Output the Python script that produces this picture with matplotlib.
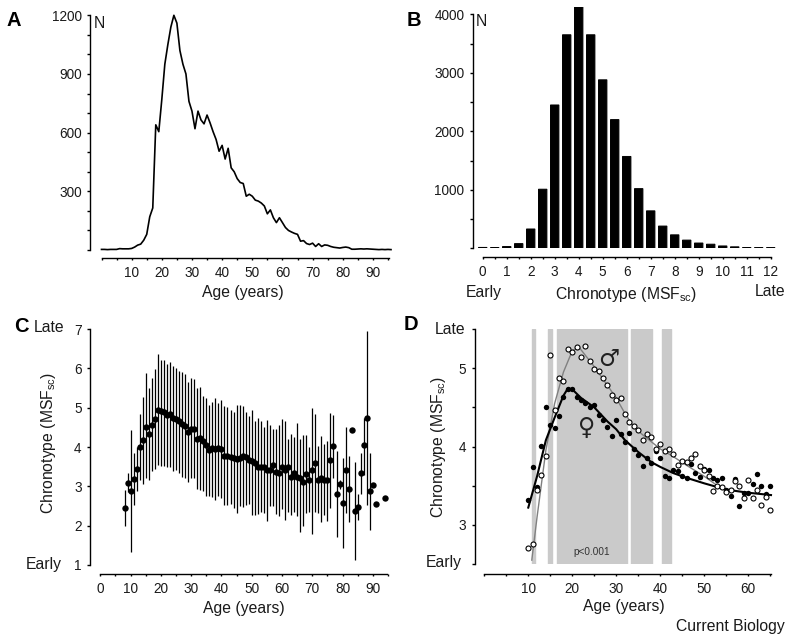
# chronotype figure, four panels
import numpy as np
import matplotlib
matplotlib.use('Agg')
import matplotlib.pyplot as plt
from matplotlib.ticker import MultipleLocator

plt.rcParams['font.family'] = ['Liberation Sans', 'DejaVu Sans']
plt.rcParams['mathtext.default'] = 'regular'
plt.rcParams['axes.linewidth'] = 1.0

W, H = 794, 637

# panel A: number of people per age
age_a = list(range(0, 97))
n_a = [3, 3, 2, 3, 3, 3, 7, 6, 6, 6,
       8, 15, 25, 30, 50, 80, 170, 215, 640, 605,
       770, 950, 1050, 1140, 1200, 1160, 1020, 950, 900, 760,
       710, 620, 710, 665, 645, 690, 650, 605, 565, 505,
       535, 465, 520, 420, 400, 365, 345, 340, 275, 285,
       275, 255, 250, 240, 225, 185, 205, 165, 140, 165,
       140, 115, 100, 92, 85, 80, 45, 48, 33, 28,
       35, 18, 32, 18, 26, 24, 18, 14, 12, 10,
       13, 15, 12, 4, 4, 5, 6, 5, 6, 5,
       4, 3, 2, 3, 2, 3, 2]

# panel B: chronotype histogram
msf_b = [0, .5, 1, 1.5, 2, 2.5, 3, 3.5, 4, 4.5, 5, 5.5, 6, 6.5, 7, 7.5, 8, 8.5, 9, 9.5, 10, 10.5, 11, 11.5, 12]
n_b = [15, 12, 30, 80, 330, 1010, 2450, 3650, 4130, 3650, 2880, 2200, 1570, 1020, 640,
       380, 230, 140, 90, 70, 40, 25, 12, 10, 10]

# panel C: mean and spread per age
age_c = list(range(8, 92)) + [94]
mean_c = [2.44, 3.08, 2.89, 3.18, 3.45, 4.0, 4.17, 4.52, 4.32, 4.57, 4.72, 4.95, 4.92, 4.88, 4.82, 4.83,
          4.75, 4.72, 4.65, 4.58, 4.53, 4.38, 4.47, 4.47, 4.2, 4.22, 4.15, 4.05, 3.93, 3.97, 3.96, 3.97,
          3.95, 3.77, 3.78, 3.75, 3.71, 3.7, 3.71, 3.78, 3.75, 3.68, 3.65, 3.6, 3.5, 3.5, 3.5, 3.42,
          3.42, 3.55, 3.37, 3.35, 3.48, 3.42, 3.5, 3.25, 3.35, 3.25, 3.22, 3.1, 3.32, 3.15, 3.42, 3.6,
          3.17, 3.2, 3.17, 3.15, 3.67, 4.03, 2.8, 3.05, 2.58, 3.42, 2.92, 4.42, 2.37, 2.47, 3.33, 4.05,
          4.74, 2.87, 3.04, 2.54, 2.71]
low_c = [2.0, 2.85, 1.33, 2.52, 2.88, 3.15, 3.07, 3.2, 3.15, 3.4, 3.45, 3.55, 3.52, 3.52, 3.5, 3.5,
         3.4, 3.42, 3.35, 3.25, 3.2, 3.1, 3.2, 3.2, 2.92, 2.9, 2.88, 2.75, 2.75, 2.72, 2.65, 2.75,
         2.7, 2.52, 2.52, 2.55, 2.45, 2.32, 2.5, 2.48, 2.52, 2.55, 2.27, 2.28, 2.3, 2.35, 2.32, 2.12,
         2.5, 2.5, 2.3, 2.25, 2.42, 2.15, 2.35, 2.27, 2.35, 2.25, 1.85, 2.0, 2.33, 2.35, 1.8, 2.35,
         2.32, 2.1, 2.27, 2.12, 2.45, 3.2, 1.72, 2.92, 1.42, 2.33, 2.1, 4.42, 1.12, 2.15, 2.8, 3.3,
         2.52, 1.9, 3.04, 2.54, 2.71]
high_c = [2.9, 3.33, 4.43, 3.84, 4.0, 4.83, 5.27, 5.87, 5.5, 5.75, 5.98, 6.36, 6.2, 6.2, 6.1, 6.15,
          6.07, 6.0, 5.93, 5.9, 5.85, 5.65, 5.75, 5.72, 5.5, 5.53, 5.3, 5.25, 5.08, 5.15, 5.25, 5.12,
          5.2, 5.05, 5.02, 4.95, 4.9, 5.08, 5.08, 5.05, 4.9, 4.8, 4.95, 4.65, 4.75, 4.67, 4.5, 4.68,
          4.55, 4.45, 4.45, 4.55, 4.7, 4.65, 4.2, 4.32, 4.25, 4.6, 4.2, 4.3, 4.3, 4.0, 5.0, 4.85,
          4.02, 4.27, 4.08, 4.15, 4.87, 4.82, 3.9, 3.15, 3.73, 4.52, 3.77, 4.42, 3.62, 2.8, 3.85, 4.75,
          6.96, 3.85, 3.04, 2.54, 2.71]

# panel D: women and men per age, plus the fitted curves and the significant ranges
age_d = list(range(10, 66))
women = [3.32, 3.74, 3.48, 4.01, 4.50, 4.27, 4.24, 4.39, 4.63, 4.74, 4.74, 4.63, 4.60, 4.55, 4.50, 4.53,
         4.40, 4.34, 4.25, 4.13, 4.34, 4.16, 4.06, 4.17, 3.97, 3.89, 3.75, 3.85, 3.79, 3.94, 3.85, 3.62,
         3.60, 3.70, 3.69, 3.62, 3.60, 3.78, 3.66, 3.61, 3.71, 3.70, 3.60, 3.57, 3.60, 3.45, 3.37, 3.58,
         3.24, 3.41, 3.41, 3.52, 3.65, 3.50, 3.40, 3.49]
men = [2.70, 2.76, 3.45, 3.64, 3.88, 5.17, 4.47, 4.87, 4.84, 5.25, 5.21, 5.27, 5.14, 5.28, 5.09, 4.99,
       4.96, 4.88, 4.79, 4.66, 4.60, 4.62, 4.42, 4.31, 4.26, 4.21, 4.08, 4.16, 4.12, 3.97, 4.03, 3.94,
       3.97, 3.90, 3.76, 3.82, 3.80, 3.85, 3.91, 3.75, 3.70, 3.62, 3.43, 3.50, 3.48, 3.42, 3.45, 3.56,
       3.49, 3.34, 3.57, 3.34, 3.45, 3.25, 3.35, 3.19]
fit_w_x = [10, 12, 14, 16, 18, 19, 20, 22, 25, 28, 30, 32, 35, 38, 40, 43, 46, 50, 55, 60, 65.2]
fit_w_y = [3.22, 3.62, 4.08, 4.37, 4.65, 4.74, 4.73, 4.62, 4.5, 4.32, 4.22, 4.08, 3.93, 3.8, 3.74, 3.66,
           3.6, 3.53, 3.45, 3.41, 3.38]
fit_m_x = [10.8, 12, 14, 16, 18, 20, 21.5, 25, 28, 30, 32, 34, 36, 38, 40, 43, 46, 50, 53, 56]
fit_m_y = [2.55, 3.1, 3.95, 4.55, 4.95, 5.22, 5.27, 5.02, 4.78, 4.62, 4.42, 4.25, 4.15, 4.06, 3.97, 3.87,
           3.76, 3.62, 3.5, 3.42]
band_start = [10.75, 14.4, 16.5, 33.3, 40.3]
band_end = [11.6, 15.4, 32.4, 38.1, 42.35]


def panel(left, right, top, bottom, spine_l, spine_b):
    # box given in pixels of the picture, spines pushed out by some pixels
    ax = fig.add_axes([left / W, 1 - bottom / H, (right - left) / W, (bottom - top) / H])
    ax.patch.set_alpha(0)
    for s in ['top', 'right']:
        ax.spines[s].set_visible(False)
    ax.spines['left'].set_position(('outward', spine_l * 0.72))
    ax.spines['bottom'].set_position(('outward', spine_b * 0.72))
    ax.tick_params(which='major', direction='out', length=2.2, width=1, labelsize=9.8, pad=3.8, color='black', labelcolor='#1a1a1a')
    ax.tick_params(which='minor', direction='out', length=2.2, width=1)
    ax.tick_params(axis='x', which='both', length=1.5, pad=4.2)
    return ax


def ftext(x, y, s, **kw):
    # text placed in pixels
    kw.setdefault('ha', 'center')
    kw.setdefault('va', 'center')
    kw.setdefault('color', '#1a1a1a')
    fig.text(x / W, 1 - y / H, s, **kw)


fig = plt.figure(figsize=(W / 100, H / 100), dpi=100)
msf = r'Chronotype (MSF$_{sc}$)'

# A
ax = panel(101.5, 391, 15.3, 250, 11.5, 8)
ax.plot(age_a, n_a, color='black', lw=1.2, clip_on=False)
ax.set_xlim(0, 96)
ax.set_ylim(0, 1200)
ax.spines['bottom'].set_bounds(0, 95.5)
ax.set_xticks(range(0, 100, 10))
ax.set_xticklabels([''] + [str(i) for i in range(10, 100, 10)])
ax.xaxis.set_minor_locator(MultipleLocator(5))
ax.set_yticks([300, 600, 900, 1200])
ax.set_yticks([0, 100, 200, 400, 500, 700, 800, 1000, 1100], minor=True)

# B
ax = panel(473.1, 780.3, 6.7, 248.3, 0.4, 8.4)
bars = ax.bar(msf_b, n_b, width=0.35, color='black', edgecolor='black', linewidth=0.7)
for b in bars:
    b.set_snap(False)
ax.set_xlim(-0.4, 12.4)
ax.set_ylim(0, 4130)
ax.spines['left'].set_bounds(0, 4000)
ax.spines['bottom'].set_bounds(0, 12)
ax.set_xticks(range(0, 13))
ax.xaxis.set_minor_locator(MultipleLocator(0.5))
ax.set_yticks([1000, 2000, 3000, 4000])
ax.set_yticks([0, 500, 1500, 2500, 3500], minor=True)

# C
ax = panel(100.3, 388, 329, 565, 10.3, 9)
ax.vlines(age_c, low_c, high_c, color='black', lw=0.9, clip_on=False)
ax.plot(age_c, mean_c, 'o', color='black', ms=4.6, mew=0, clip_on=False)
ax.set_xlim(0, 95)
ax.set_ylim(1, 7)
ax.spines['bottom'].set_bounds(0, 94.8)
ax.set_xticks(range(0, 100, 10))
ax.xaxis.set_minor_locator(MultipleLocator(5))
ax.set_yticks(range(1, 8))

# D
ax = panel(484.3, 771, 329, 564, 9.6, 10)
for a, b in zip(band_start, band_end):
    ax.axvspan(a, b, color='#cacaca', lw=1)
ax.plot(fit_m_x, fit_m_y, color='#808080', lw=1.0)
ax.plot(fit_w_x, fit_w_y, color='black', lw=1.5, clip_on=False)
ax.plot(age_d, women, 'o', color='black', ms=3.9, mew=0, clip_on=False)
ax.plot(age_d, men, 'o', mfc='white', mec='black', ms=3.6, mew=0.8, clip_on=False)
ax.set_xlim(0, 65.2)
ax.set_ylim(2.5, 5.5)
ax.set_xticks(range(0, 70, 10))
ax.set_xticklabels([''] + [str(i) for i in range(10, 70, 10)])
ax.xaxis.set_minor_locator(MultipleLocator(5))
ax.set_yticks([3, 4, 5])
ax.set_yticks([2.5, 3.5, 4.5, 5.5], minor=True)
ax.text(24.5, 2.65, 'p<0.001', fontsize=7.2, ha='center', va='center', color='#333333')
ax.text(23.3, 4.235, '\u2640', fontsize=17, family='DejaVu Sans', ha='center', va='center', color='#222222')
ax.text(28.3, 5.115, '\u2642', fontsize=17, family='DejaVu Sans', ha='center', va='center', color='#222222')

# text outside the axes
ftext(14, 21, 'A', fontsize=14.5, fontweight='bold', color='black')
ftext(414, 20, 'B', fontsize=14.5, fontweight='bold', color='black')
ftext(21, 326, 'C', fontsize=14.5, fontweight='bold', color='black')
ftext(411, 325, 'D', fontsize=14.5, fontweight='bold', color='black')
ftext(99, 24, 'N', fontsize=11.3)
ftext(481, 22, 'N', fontsize=11.3)
ftext(243, 293, 'Age (years)', fontsize=11.3)
ftext(244, 608, 'Age (years)', fontsize=11.3)
ftext(624, 606, 'Age (years)', fontsize=11.3)
ftext(626, 294, msf, fontsize=11.3)
ftext(484, 292, 'Early', fontsize=11.3)
ftext(770, 292, 'Late', fontsize=11.3)
ftext(49, 328, 'Late', fontsize=11.3)
ftext(44, 564, 'Early', fontsize=11.3)
ftext(450, 329, 'Late', fontsize=11.3)
ftext(444, 563, 'Early', fontsize=11.3)
ftext(48, 443, msf, fontsize=11.3, rotation=90)
ftext(439, 447, msf, fontsize=11.3, rotation=90)
ftext(730, 627, 'Current Biology', fontsize=11.3)

fig.savefig('out.png', dpi=100)
